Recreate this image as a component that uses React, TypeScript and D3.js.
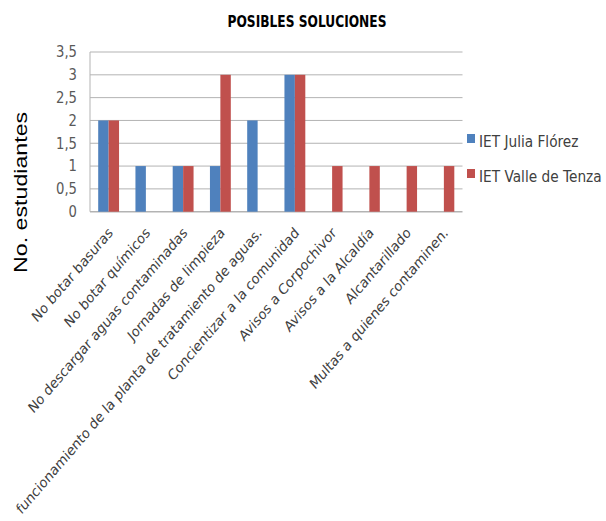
import React from "react";
import * as d3 from "d3";

const categories = [
  "No botar basuras",
  "No botar químicos",
  "No descargar aguas contaminadas",
  "Jornadas de limpieza",
  "funcionamiento de la planta de tratamiento de aguas.",
  "Concientizar a la comunidad",
  "Avisos a Corpochivor",
  "Avisos a la Alcaldía",
  "Alcantarillado",
  "Multas a quienes contaminen.",
];
const seriesNames = ["IET Julia Flórez", "IET Valle de Tenza"];
const juliaValues = [2, 1, 1, 1, 2, 3, 0, 0, 0, 0];
const valleValues = [2, 0, 1, 3, 0, 3, 1, 1, 1, 1];
const yTicks = [0, 0.5, 1, 1.5, 2, 2.5, 3, 3.5];
const title = "POSIBLES SOLUCIONES";
const yTitle = "No. estudiantes";

const colors = ["#4F81BD", "#C0504D"];
const W = 606;
const H = 521;
const plot = { left: 90, right: 462.5, top: 52, bottom: 211.7 };
const labelFont = "'DejaVu Sans', sans-serif";
const K = 1.166; // vertical stretch of the reference text

export default function App() {
  const x = d3
    .scaleBand<string>()
    .domain(categories)
    .range([plot.left, plot.right])
    .paddingInner(0.44)
    .paddingOuter(0.22);
  const xs = d3.scaleBand<number>().domain([0, 1]).range([0, x.bandwidth()]);
  const y = d3.scaleLinear().domain([0, 3.5]).range([plot.bottom, plot.top]);
  const series = [juliaValues, valleValues];
  const fmt = (v: number) => String(v).replace(".", ",");

  return (
    <svg
      width={W}
      height={H}
      style={{ position: "absolute", left: 0, top: 0, background: "#fff" }}
    >
      <g transform={`translate(307,27.3) scale(1,${K})`}>
        <text
          x={0}
          y={0}
          textAnchor="middle"
          fontFamily={labelFont}
          fontWeight="bold"
          fontSize={13.3}
          fill="#000"
          textLength={159}
          lengthAdjust="spacingAndGlyphs"
        >
          {title}
        </text>
      </g>
      {yTicks.map((t) => (
        <g key={t}>
          <line
            x1={plot.left}
            x2={plot.right}
            y1={y(t)}
            y2={y(t)}
            stroke="#b3b3b3"
            strokeWidth={t === 0 ? 1.5 : 1}
          />
          <g transform={`translate(77,${y(t) + 5.4}) scale(1,${K})`}>
            <text
              x={0}
              y={0}
              textAnchor="end"
              fontFamily={labelFont}
              fontSize={13.2}
              fill="#595959"
            >
              {fmt(t)}
            </text>
          </g>
        </g>
      ))}
      <line
        x1={plot.left}
        x2={plot.left}
        y1={plot.top}
        y2={plot.bottom}
        stroke="#b3b3b3"
        strokeWidth={1}
      />
      {categories.map((c, i) =>
        series.map((vals, s) => (
          <rect
            key={c + s}
            x={(x(c) as number) + (xs(s) as number)}
            y={y(vals[i])}
            width={xs.bandwidth()}
            height={plot.bottom - y(vals[i])}
            fill={colors[s]}
          />
        ))
      )}
      {categories.map((c) => {
        const cx = (x(c) as number) + x.bandwidth() / 2;
        return (
          <g
            key={c}
            transform={`translate(${cx + 5},${plot.bottom + 22}) scale(1,${K}) rotate(-45)`}
          >
            <text
              x={0}
              y={0}
              textAnchor="end"
              fontFamily={labelFont}
              fontSize={12.6}
              fill="#404040"
            >
              {c}
            </text>
          </g>
        );
      })}
      <text
        transform={`translate(26.7,192.4) rotate(-90)`}
        textAnchor="middle"
        fontFamily="'Liberation Sans', Arial, sans-serif"
        fontSize={18.6}
        fill="#000"
        textLength={161}
        lengthAdjust="spacingAndGlyphs"
      >
        {yTitle}
      </text>
      {seriesNames.map((n, i) => (
        <g key={n} transform={`translate(467,${134 + i * 35})`}>
          <rect x={0} y={0} width={8} height={9} fill={colors[i]} />
          <g transform={`translate(12,12.7) scale(1,${K})`}>
            <text
              x={0}
              y={0}
              fontFamily={labelFont}
              fontSize={13.7}
              fill="#404040"
            >
              {n}
            </text>
          </g>
        </g>
      ))}
    </svg>
  );
}
